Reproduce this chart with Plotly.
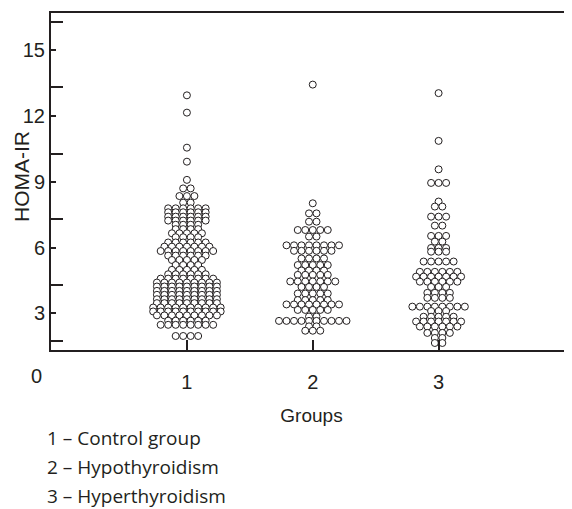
import plotly.graph_objects as go

# ---------------- data ----------------
group_positions = [1, 2, 3]
group_tick_labels = ["1", "2", "3"]
y_tick_values = [3, 6, 9, 12, 15]
y_tick_labels = ["3", "6", "9", "12", "15"]
legend_lines = ["1 – Control group", "2 – Hypothyroidism", "3 – Hyperthyroidism"]

# HOMA-IR levels and number of subjects at each level
control_levels = [12.95, 12.16, 10.56, 9.92, 9.09, 8.70, 8.35, 8.05, 7.79, 7.61, 7.41, 7.23,
                  7.04, 6.84, 6.65, 6.47, 6.23, 6.04, 5.84, 5.63, 5.43, 5.20, 4.98, 4.78,
                  4.58, 4.40, 4.22, 4.02, 3.84, 3.64, 3.46, 3.26, 3.08, 2.90, 2.66, 2.47, 1.96]
control_counts = [1, 1, 1, 1, 1, 2, 3, 2, 6, 6, 6, 6,
                  4, 4, 5, 4, 6, 7, 8, 6, 5, 4, 5, 6,
                  8, 9, 9, 9, 9, 9, 9, 10, 10, 9, 6, 8, 4]

hypo_levels = [13.44, 8.02, 7.56, 7.18, 6.80, 6.50, 6.10, 5.85, 5.50, 5.20, 4.95, 4.75,
               4.45, 4.20, 3.90, 3.60, 3.40, 3.15, 2.85, 2.65, 2.40, 2.20]
hypo_counts = [1, 1, 2, 2, 5, 2, 8, 6, 4, 5, 4, 5,
               7, 4, 5, 5, 8, 5, 2, 10, 2, 3]

hyper_levels = [13.05, 10.87, 9.57, 8.95, 8.10, 7.87, 7.41, 7.00, 6.53, 6.27, 5.98, 5.81,
                5.36, 4.89, 4.67, 4.44, 4.20, 3.93, 3.70, 3.30, 3.10, 2.84, 2.62, 2.39,
                2.10, 1.87, 1.64]
hyper_counts = [1, 1, 1, 3, 1, 2, 3, 2, 3, 2, 3, 3,
                5, 6, 7, 6, 3, 4, 4, 8, 3, 5, 7, 6,
                4, 2, 2]

# ---------------- layout constants ----------------
BODY = 8                      # default page margin around the plot div
W, H = 572 - BODY, 509 - BODY
M_L, M_R, M_T = 51 - BODY, 0, 13 - BODY
M_B = H - (350 - BODY)
X_RANGE = [-0.08, 4.06]
Y_RANGE = [1.32, 16.71]
INK = "#231f20"
plot_w = W - M_L - M_R
plot_h = H - M_T - M_B
px_per_x = plot_w / (X_RANGE[1] - X_RANGE[0])
dot_spacing = 7.5 / px_per_x  # horizontal spacing between dots in a row

fig = go.Figure()
for g, levels, counts in zip(group_positions,
                             [control_levels, hypo_levels, hyper_levels],
                             [control_counts, hypo_counts, hyper_counts]):
    xs, ys = [], []
    for v, n in zip(levels, counts):
        for i in range(n):
            xs.append(g + (i - (n - 1) / 2) * dot_spacing)
            ys.append(v)
    fig.add_trace(go.Scatter(
        x=xs, y=ys, mode="markers", showlegend=False, cliponaxis=False,
        marker=dict(symbol="circle", size=7, color="white",
                    line=dict(color=INK, width=1)),
        hoverinfo="skip"))

tick_font = dict(family="Liberation Sans", size=20, color=INK)
title_font = dict(family="Liberation Sans", size=19, color=INK)
ytitle_font = dict(family="Liberation Sans", size=21, color=INK)

fig.update_layout(
    width=W, height=H,
    margin=dict(l=M_L, r=M_R, t=M_T, b=M_B),
    paper_bgcolor="white", plot_bgcolor="white",
    xaxis=dict(range=X_RANGE, tickmode="array", tickvals=group_positions,
               ticktext=group_tick_labels, ticks="inside", ticklen=10, tickwidth=2,
               tickcolor=INK, showline=True, linewidth=2, linecolor=INK, mirror=True,
               showgrid=False, zeroline=False, tickfont=tick_font, ticklabelstandoff=13,
               title=dict(text="Groups", font=title_font, standoff=17)),
    yaxis=dict(range=Y_RANGE, tickmode="array", tickvals=y_tick_values,
               ticktext=y_tick_labels, ticks="inside", ticklen=5, tickwidth=2,
               tickcolor=INK, showline=True, linewidth=2, linecolor=INK,
               showgrid=False, zeroline=False, tickfont=tick_font,
               minor=dict(tickmode="array", tickvals=[1.74, 4.29, 7.31, 10.27, 13.33, 16.30],
                          ticks="inside", ticklen=12, tickwidth=2, tickcolor=INK,
                          showgrid=False)),
)

def px_to_paper_x(px):
    return (px - BODY - M_L) / plot_w

def px_to_paper_y(py):
    return (H - M_B - (py - BODY)) / plot_h

# y axis title
fig.add_annotation(text="HOMA-IR", textangle=-90, x=px_to_paper_x(21), y=px_to_paper_y(177),
                   xref="paper", yref="paper", showarrow=False, font=ytitle_font,
                   xanchor="center", yanchor="middle")

# "0" at the origin corner
fig.add_annotation(text="0", x=px_to_paper_x(36), y=px_to_paper_y(376), xref="paper", yref="paper",
                   showarrow=False, font=tick_font, xanchor="center", yanchor="middle")

legend_font = dict(family="Open Sans", size=19, color=INK)
for k, line in enumerate(legend_lines):
    fig.add_annotation(text=line, x=px_to_paper_x(45), y=px_to_paper_y(438 + 29 * k),
                       xref="paper", yref="paper", showarrow=False, font=legend_font,
                       xanchor="left", yanchor="middle")

fig.write_html("out.html")
